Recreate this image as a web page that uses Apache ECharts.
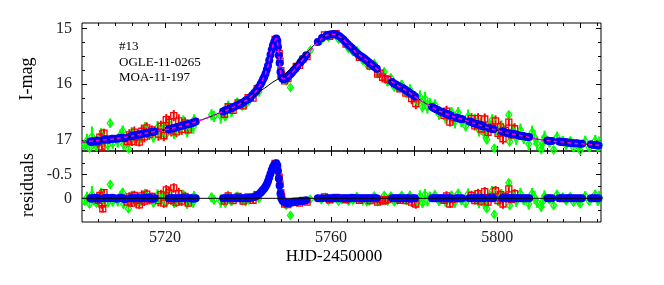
<!DOCTYPE html>
<html>
<head>
<meta charset="utf-8">
<script src="https://cdn.jsdelivr.net/npm/echarts@6/dist/echarts.min.js"></script>
<style>html,body{margin:0;padding:0;background:#fff}#c{width:664px;height:285px}</style>
</head>
<body>
<div id="c"></div>
<script>
// ---- data (HJD-2450000, I-mag, error, residual) ----
const annotation = ['#13', 'OGLE-11-0265', 'MOA-11-197'];
const xLabelTicks = [5720, 5760, 5800];
const yLabelTicksTop = [15, 16, 17];
const yLabelTicksRes = [-0.5, 0];

// single-lens model [t, mag]
const singleLens = [[5700,17.04],[5702,17.03],[5704,17.01],[5706,17.00],[5708,16.98],[5710,16.96],[5712,16.93],[5714,16.90],[5716,16.87],[5718,16.85],[5720,16.82],[5722,16.79],[5724,16.75],[5726,16.71],[5728,16.66],[5730,16.61],[5732,16.55],[5734,16.49],[5736,16.43],[5738,16.36],[5740,16.27],[5742,16.17],[5744,16.07],[5746,15.96],[5748,15.87],[5750,15.74],[5752,15.59],[5754,15.44],[5756,15.29],[5758,15.16],[5759,15.12],[5760,15.10],[5761,15.10],[5762,15.14],[5763,15.20],[5764,15.28],[5766,15.43],[5768,15.54],[5770,15.66],[5772,15.79],[5774,15.92],[5776,16.02],[5778,16.11],[5780,16.21],[5782,16.31],[5784,16.40],[5786,16.48],[5788,16.54],[5790,16.60],[5792,16.64],[5794,16.69],[5796,16.74],[5798,16.79],[5800,16.83],[5802,16.87],[5804,16.90],[5806,16.93],[5808,16.96],[5810,16.99],[5812,17.01],[5814,17.03],[5816,17.04],[5818,17.06],[5820,17.07],[5822,17.08],[5825,17.10]];

// planetary model [t, mag]
const planetModel = [[5700,17.04],[5704,17.01],[5708,16.98],[5712,16.93],[5716,16.87],[5720,16.82],[5724,16.75],[5728,16.66],[5732,16.55],[5736,16.43],[5740,16.27],[5742,16.12],[5743,16.00],[5743.6,15.91],[5744.2,15.81],[5744.8,15.67],[5745.4,15.47],[5746.0,15.30],[5746.4,15.22],[5746.8,15.18],[5747.0,15.21],[5747.2,15.32],[5747.4,15.47],[5747.6,15.62],[5747.8,15.77],[5748.0,15.86],[5748.4,15.90],[5749.0,15.90],[5749.8,15.85],[5750.6,15.79],[5751.4,15.72],[5752.6,15.61],[5754,15.48],[5756,15.31],[5758,15.16],[5759,15.12],[5760,15.10],[5761,15.10],[5762,15.14],[5763,15.20],[5764,15.28],[5766,15.43],[5768,15.54],[5770,15.66],[5772,15.79],[5774,15.92],[5776,16.02],[5778,16.11],[5780,16.21],[5782,16.31],[5784,16.40],[5786,16.48],[5788,16.54],[5790,16.60],[5792,16.64],[5794,16.69],[5796,16.74],[5798,16.79],[5800,16.83],[5802,16.87],[5804,16.90],[5806,16.93],[5808,16.96],[5810,16.99],[5812,17.01],[5814,17.03],[5816,17.04],[5818,17.06],[5820,17.07],[5822,17.08],[5825,17.10]];

const zeroLine = [[5700,0],[5825,0]];

// blue [t, mag, residual]
const blue = [[5702.0,17.03,0.00],[5702.4,17.04,0.01],[5702.8,17.02,-0.01],[5703.2,17.02,0.00],[5703.6,17.01,-0.01],[5704.0,17.02,0.01],
[5705.3,17.00,0.00],[5705.8,16.99,-0.01],[5706.3,17.00,0.00],[5706.8,16.99,0.00],[5707.3,16.98,-0.01],[5707.8,16.98,0.00],
[5708.4,16.98,0.01],[5708.9,16.97,0.00],[5709.4,16.96,-0.01],[5709.9,16.96,0.00],[5710.3,16.97,0.02],
[5711.6,16.94,0.00],[5712.1,16.93,0.00],[5712.6,16.92,0.00],[5713.1,16.91,-0.01],[5713.6,16.91,0.00],[5714.1,16.90,0.00],[5714.6,16.89,0.00],[5715.1,16.88,0.00],[5715.6,16.87,-0.01],[5716.1,16.87,0.00],[5716.6,16.86,0.00],[5717.1,16.86,0.01],[5717.5,16.85,0.00],
[5720.9,16.81,0.00],[5721.4,16.80,0.00],[5721.9,16.79,0.00],[5722.4,16.78,0.00],[5722.9,16.77,0.00],[5723.4,16.76,0.00],[5723.9,16.75,0.00],[5724.4,16.74,0.00],[5724.9,16.73,0.00],[5725.4,16.72,0.00],[5725.9,16.71,0.00],[5726.4,16.70,0.00],[5726.9,16.69,0.01],[5727.4,16.67,0.00],
[5734.0,16.49,0.00],[5734.5,16.47,0.00],[5735.0,16.46,0.00],[5735.5,16.44,0.00],[5736.0,16.43,0.00],[5736.5,16.41,0.00],[5737.0,16.39,0.00],[5737.5,16.38,0.00],[5738.0,16.36,0.00],[5738.5,16.34,0.00],[5739.0,16.32,0.00],[5739.5,16.29,0.00],[5740.0,16.27,0.00],[5740.5,16.24,-0.01],[5741.0,16.20,-0.02],[5741.5,16.16,-0.03],[5742.0,16.12,-0.05],[5742.5,16.06,-0.08],[5743.0,16.00,-0.12],
[5743.3,15.96,-0.15],[5743.6,15.91,-0.18],[5743.9,15.87,-0.21],[5744.2,15.81,-0.25],[5744.5,15.74,-0.30],[5744.8,15.67,-0.36],[5745.1,15.57,-0.44],[5745.4,15.47,-0.52],[5745.7,15.38,-0.60],[5746.0,15.30,-0.66],[5746.3,15.24,-0.71],[5746.6,15.20,-0.73],[5746.8,15.18,-0.74],[5747.0,15.22,-0.70],[5747.2,15.33,-0.58],[5747.4,15.48,-0.42],[5747.6,15.62,-0.27],[5747.8,15.78,-0.10],[5748.0,15.87,0.00],[5748.3,15.90,0.05],[5748.6,15.90,0.07],[5749.0,15.90,0.09],[5749.4,15.88,0.10],[5749.8,15.85,0.10],[5750.2,15.82,0.09],[5750.6,15.79,0.09],[5751.0,15.75,0.08],[5751.4,15.72,0.08],[5751.8,15.68,0.07],[5752.6,15.61,0.06],[5753.0,15.57,0.05],[5753.4,15.54,0.05],[5754.0,15.48,0.04],[5756.8,15.24,0.00],[5757.8,15.17,0.00],
[5759.0,15.12,0.00],[5759.5,15.11,0.00],[5760.0,15.10,0.00],[5760.5,15.10,0.00],[5761.0,15.10,0.00],[5761.5,15.12,0.00],[5762.0,15.14,0.00],[5762.5,15.17,0.00],[5763.0,15.20,0.00],[5763.5,15.24,0.00],[5764.0,15.28,0.00],[5764.5,15.32,0.00],[5765.0,15.35,-0.01],[5765.5,15.39,0.00],[5766.0,15.43,0.00],[5766.5,15.46,0.00],[5767.0,15.49,0.00],[5767.5,15.51,0.00],[5768.0,15.54,0.00],[5768.5,15.57,0.00],[5769.0,15.60,0.00],[5769.5,15.63,0.00],[5770.0,15.66,0.00],[5770.5,15.69,0.00],[5771.0,15.72,0.00],
[5774.7,15.96,0.00],[5775.2,15.99,0.00],[5775.7,16.01,0.00],[5776.2,16.03,0.00],[5776.7,16.05,0.00],[5777.2,16.07,0.00],[5777.7,16.09,0.00],[5778.2,16.12,0.00],[5778.7,16.14,0.00],[5779.2,16.17,0.01],[5779.7,16.19,0.00],[5780.2,16.22,0.00],
[5784.3,16.41,0.00],[5784.8,16.43,0.00],[5785.3,16.45,0.00],[5785.8,16.47,0.00],[5786.3,16.49,0.00],[5786.8,16.50,0.00],[5787.3,16.52,0.00],[5787.8,16.53,0.00],[5788.3,16.55,0.00],[5788.8,16.56,0.00],
[5790.1,16.60,0.00],[5790.6,16.61,0.00],[5791.1,16.62,0.00],[5791.6,16.63,0.00],
[5793.3,16.67,0.00],[5793.8,16.68,0.00],[5794.3,16.70,0.00],[5794.8,16.71,0.00],[5795.3,16.72,0.00],[5795.8,16.73,0.00],[5796.3,16.75,0.00],[5796.8,16.76,0.00],
[5798.1,16.79,0.00],[5798.6,16.80,0.00],[5799.1,16.81,0.00],
[5801.2,16.85,0.00],[5801.7,16.86,0.00],[5802.2,16.87,0.00],[5802.7,16.88,0.00],[5803.2,16.89,0.00],[5803.7,16.90,0.00],[5804.2,16.90,0.00],[5804.7,16.91,0.00],[5805.2,16.92,0.00],[5805.7,16.93,0.00],[5806.2,16.93,0.00],[5806.7,16.94,0.00],[5807.2,16.95,0.00],[5807.7,16.95,0.00],
[5812.1,17.01,0.00],[5812.6,17.02,0.00],[5813.2,17.02,0.00],
[5814.9,17.03,0.00],[5815.4,17.04,0.00],[5815.9,17.04,0.00],[5816.5,17.04,0.00],[5817.0,17.05,0.00],[5817.5,17.05,0.00],[5818.0,17.06,0.00],[5818.6,17.06,0.00],[5819.2,17.06,0.00],[5819.8,17.07,0.00],[5820.4,17.07,0.00],
[5822.6,17.08,0.00],[5823.2,17.09,0.00],[5823.8,17.09,0.00],[5824.4,17.10,0.00]];

// red [t, mag, err, residual]
const red = [[5703.9,17.05,0.10,0.04],[5704.3,16.95,0.12,-0.06],[5704.8,17.125,0.10,0.12],[5705.0,17.225,0.08,0.22],[5705.3,16.88,0.08,-0.12],
[5710.9,17.03,0.10,0.08],[5711.4,16.91,0.10,-0.03],[5712.0,17.03,0.08,0.10],[5712.6,16.86,0.10,-0.06],[5713.2,16.95,0.10,0.04],[5713.8,17.04,0.08,0.14],[5714.4,16.845,0.12,-0.05],[5715.0,16.945,0.10,0.06],[5715.6,16.785,0.10,-0.09],[5716.2,16.90,0.10,0.03],[5716.8,16.82,0.08,-0.04],
[5718.4,16.895,0.12,0.05],[5719.0,16.755,0.10,-0.08],[5719.7,16.925,0.10,0.10],[5720.3,16.635,0.10,-0.18],[5720.9,16.685,0.12,-0.12],[5721.5,16.84,0.10,0.04],[5722.1,16.565,0.10,-0.22],[5722.7,16.855,0.10,0.08],[5723.3,16.66,0.12,-0.10],[5724.0,16.81,0.10,0.06],[5724.8,16.695,0.10,-0.04],[5725.6,16.82,0.08,0.10],
[5734.3,16.54,0.06,0.06],[5735.2,16.405,0.06,-0.05],[5736.4,16.47,0.06,0.05],[5737.6,16.335,0.06,-0.04],[5738.8,16.39,0.06,0.06],[5740.0,16.24,0.06,-0.03],[5741.2,16.25,0.06,0.04],[5742.2,16.08,0.06,-0.08],
[5746.5,15.195,0.05,-0.74],[5747.1,15.25,0.05,-0.66],[5747.5,15.445,0.05,-0.45],[5747.7,15.585,0.05,-0.30],[5747.9,15.755,0.05,-0.12],[5748.1,15.835,0.05,-0.03],[5748.8,15.94,0.05,0.12],[5749.6,15.90,0.05,0.13],
[5751.6,15.68,0.05,0.06],[5752.4,15.66,0.05,0.10],[5753.2,15.55,0.05,0.05],[5754.2,15.505,0.05,0.08],
[5758.4,15.115,0.04,-0.03],[5759.6,15.14,0.04,0.03],[5761.2,15.09,0.04,-0.02],[5763.6,15.28,0.05,0.03],[5766.8,15.515,0.05,0.04],[5769.4,15.675,0.06,0.05],[5771.2,15.82,0.06,0.08],[5771.8,15.80,0.06,0.02],[5772.4,15.875,0.06,0.06],[5773.0,15.905,0.06,0.05],[5773.6,15.915,0.08,0.02],
[5776.6,16.085,0.06,0.04],[5778.0,16.16,0.06,0.05],[5779.4,16.26,0.10,0.08],[5780.4,16.35,0.10,0.12],
[5787.2,16.56,0.08,0.04],[5787.8,16.485,0.10,-0.05],[5788.6,16.68,0.08,0.12],[5789.3,16.60,0.10,0.02],
[5793.8,16.62,0.10,-0.06],[5794.6,16.75,0.08,0.05],[5795.4,16.62,0.10,-0.10],[5796.2,16.805,0.10,0.06],[5797.0,16.625,0.10,-0.14],[5797.8,16.865,0.10,0.08],[5798.6,16.77,0.10,-0.03],[5799.6,16.66,0.10,-0.16],[5800.2,16.885,0.10,0.05],[5800.8,16.765,0.10,-0.08],[5801.4,16.98,0.10,0.12],[5802.0,16.83,0.10,-0.04],
[5802.8,16.68,0.08,-0.20],[5803.4,16.91,0.10,0.02],[5804.2,16.80,0.10,-0.10]];

// green [t, mag, err, residual]
const green = [[5700.6,17.10,0.08,0.06],[5701.2,17.01,0.12,-0.02],[5701.8,17.15,0.08,0.12],[5702.4,16.94,0.18,-0.08],[5702.9,17.06,0.10,0.04],[5703.5,17.12,0.08,0.10],[5704.6,16.91,0.12,-0.10],[5705.2,17.03,0.10,0.03],[5706.2,17.09,0.10,0.09],[5706.8,16.70,0.08,-0.29],[5707.4,17.06,0.10,0.07],[5708.6,17.02,0.12,0.05],[5709.3,16.91,0.10,-0.06],[5709.8,16.84,0.10,-0.12],[5710.0,17.08,0.10,0.12],[5711.2,17.16,0.08,0.22],[5712.0,16.89,0.12,-0.04],[5713.0,17.01,0.10,0.10],[5714.2,16.95,0.10,0.05],[5715.2,16.80,0.12,-0.08],[5716.0,16.89,0.08,0.02],[5717.2,16.95,0.10,0.09],
[5718.2,16.78,0.12,-0.07],[5718.9,16.90,0.10,0.06],[5719.6,16.81,0.14,-0.02],[5720.3,16.90,0.10,0.09],[5721.0,16.72,0.10,-0.08],[5722.2,16.885,0.10,0.10],[5723.5,16.81,0.10,0.05],[5724.4,16.68,0.12,-0.06],[5725.3,16.85,0.10,0.12],[5726.2,16.75,0.10,0.04],[5726.8,16.77,0.12,0.08],[5727.0,16.64,0.10,-0.05],
[5731.2,16.55,0.10,-0.02],[5731.8,16.58,0.10,0.03],[5733.4,16.57,0.14,0.06],[5734.5,16.58,0.08,0.10],[5735.2,16.395,0.10,-0.06],[5736.0,16.49,0.10,0.06],[5737.4,16.34,0.10,-0.04],[5738.6,16.39,0.08,0.05],[5739.4,16.37,0.08,0.07],[5740.2,16.30,0.08,0.04],[5741.5,16.13,0.08,-0.06],[5742.6,16.14,0.08,0.00],
[5744.8,15.65,0.06,-0.38],[5746.4,15.22,0.06,-0.72],[5748.2,15.91,0.06,0.05],[5749.2,15.94,0.05,0.15],[5750.2,16.06,0.05,0.36],[5752.5,15.62,0.06,0.06],[5755.0,15.39,0.06,0.02],
[5757.6,15.21,0.05,0.03],[5758.6,15.12,0.06,-0.02],[5759.4,15.16,0.05,0.05],[5760.4,15.12,0.05,0.02],[5761.8,15.19,0.05,0.06],[5762.6,15.20,0.05,0.03],[5764.2,15.36,0.06,0.06],[5765.2,15.41,0.06,0.04],[5766.2,15.40,0.06,-0.04],[5767.6,15.57,0.06,0.05],[5768.6,15.64,0.06,0.07],[5769.2,15.67,0.06,0.06],[5770.4,15.63,0.06,-0.05],[5771.2,15.81,0.06,0.07],[5772.8,15.78,0.08,-0.06],[5773.6,15.955,0.08,0.06],[5774.4,15.89,0.08,-0.05],[5775.2,16.05,0.08,0.07],[5776.0,16.06,0.08,0.04],[5777.0,16.005,0.08,-0.06],[5778.2,16.17,0.08,0.05],[5779.0,16.10,0.10,-0.06],
[5780.8,16.32,0.10,0.07],[5781.4,16.23,0.12,-0.05],[5782.0,16.41,0.10,0.10],[5782.6,16.26,0.12,-0.08],[5783.2,16.41,0.12,0.05],[5783.8,16.35,0.10,-0.04],[5785.0,16.37,0.10,-0.07],[5786.0,16.54,0.10,0.06],[5787.6,16.61,0.10,0.08],[5789.0,16.51,0.10,-0.06],[5789.8,16.675,0.12,0.08],[5790.6,16.51,0.10,-0.10],[5791.4,16.67,0.10,0.04],[5792.4,16.75,0.10,0.10],[5793.0,16.575,0.12,-0.09],
[5794.6,16.65,0.12,-0.05],[5795.6,16.82,0.12,0.09],[5796.0,16.71,0.10,-0.04],[5796.8,16.87,0.12,0.10],[5797.5,17.00,0.07,0.22],[5798.2,16.74,0.10,-0.05],[5798.8,16.64,0.10,-0.16],[5799.3,17.15,0.06,0.34],[5800.4,16.89,0.10,0.05],[5801.0,16.77,0.12,-0.08],[5802.8,16.55,0.06,-0.33],[5803.0,17.035,0.06,0.15],[5803.8,16.835,0.12,-0.06],[5804.6,16.97,0.12,0.06],[5805.6,16.825,0.12,-0.10],[5806.4,16.975,0.10,0.04],[5807.6,17.075,0.12,0.12],
[5808.4,16.865,0.12,-0.10],[5809.0,16.955,0.14,-0.02],[5809.6,17.065,0.12,0.08],[5810.6,17.175,0.10,0.18],[5811.0,17.06,0.14,0.06],[5811.4,16.955,0.12,-0.05],[5812.6,17.05,0.08,0.03],[5813.6,17.18,0.06,0.15],[5814.4,16.95,0.10,-0.08],[5815.8,17.01,0.08,-0.03],[5816.6,17.095,0.08,0.05],[5817.6,17.015,0.06,-0.04],[5818.4,17.14,0.08,0.08],[5819.6,17.125,0.06,0.06],[5820.0,17.19,0.06,0.12],[5821.2,17.025,0.10,-0.05],[5822.2,17.14,0.08,0.06],[5823.6,17.01,0.10,-0.08],[5824.2,17.135,0.12,0.04],[5824.6,17.08,0.14,-0.02]];

// ---- chart ----
const FONT = '"Liberation Serif", "DejaVu Serif", serif';
const chart = echarts.init(document.getElementById('c'), null, {renderer: 'canvas'});

const X_MIN = 5700, X_MAX = 5825;
const majorX = [5720, 5740, 5760, 5780, 5800, 5820];
const minorX = [];
for (let v = 5704; v < X_MAX; v += 4) if (majorX.indexOf(v) < 0) minorX.push(v);
const minorYTop = [15.25, 15.5, 15.75, 16.25, 16.5, 16.75];
const minorYRes = [-0.75, -0.25, 0.25];

function xAx(grid, pos, ticks, len, labels) {
  return {
    type: 'value', gridIndex: grid, position: pos, min: X_MIN, max: X_MAX,
    axisLine: {show: false, onZero: false},
    splitLine: {show: false},
    axisTick: {show: true, inside: true, length: len, customValues: ticks, lineStyle: {color: '#000', width: 1}},
    axisLabel: labels ? {show: true, customValues: labels, color: '#222', fontFamily: FONT, fontSize: 16, margin: 8,
      formatter: v => String(v)} : {show: false}
  };
}
function yAx(grid, pos, min, max, ticks, len, labels) {
  return {
    type: 'value', gridIndex: grid, position: pos, min: min, max: max, inverse: true,
    axisLine: {show: false, onZero: false},
    splitLine: {show: false},
    axisTick: {show: true, inside: true, length: len, customValues: ticks, lineStyle: {color: '#000', width: 1}},
    axisLabel: labels ? {show: true, customValues: labels, color: '#222', fontFamily: FONT, fontSize: 16, margin: 10,
      formatter: v => (v === 0 ? '0' : String(v))} : {show: false}
  };
}

function errBars(data, yIdx, color, xi, yi, lw) {
  return {
    type: 'custom', xAxisIndex: xi, yAxisIndex: yi, clip: true, silent: true,
    data: data.map(d => [d[0], d[yIdx], d[2]]),
    renderItem: function (params, api) {
      const x = api.value(0), y = api.value(1), e = api.value(2);
      const p1 = api.coord([x, y - e]), p2 = api.coord([x, y + e]);
      return {type: 'line', shape: {x1: p1[0], y1: p1[1], x2: p2[0], y2: p2[1]},
        style: {stroke: color, lineWidth: lw}};
    }
  };
}
function marks(data, yIdx, symbol, size, color, filled, xi, yi, bw) {
  return {
    type: 'scatter', xAxisIndex: xi, yAxisIndex: yi, clip: true, silent: true,
    symbol: symbol, symbolSize: size,
    data: data.map(d => [d[0], d[yIdx]]),
    itemStyle: filled ? {color: color, opacity: 1} : {color: 'rgba(0,0,0,0)', borderColor: color, borderWidth: bw || 1, opacity: 1}
  };
}

const option = {
  animation: false,
  backgroundColor: '#fff',
  grid: [
    {left: 82, top: 23, width: 519, height: 128, show: true, borderColor: '#000', borderWidth: 1, backgroundColor: 'transparent'},
    {left: 82, top: 151, width: 519, height: 71, show: true, borderColor: '#000', borderWidth: 1, backgroundColor: 'transparent'}
  ],
  xAxis: [
    xAx(0, 'bottom', majorX, 5, null),
    xAx(0, 'bottom', minorX, 3, null),
    xAx(0, 'top', majorX, 5, null),
    xAx(0, 'top', minorX, 3, null),
    xAx(1, 'bottom', majorX, 5, xLabelTicks),
    xAx(1, 'bottom', minorX, 3, null),
    xAx(1, 'top', majorX, 5, null),
    xAx(1, 'top', minorX, 3, null)
  ],
  yAxis: [
    yAx(0, 'left', 14.9, 17.2, yLabelTicksTop, 5, yLabelTicksTop),
    yAx(0, 'left', 14.9, 17.2, minorYTop, 3, null),
    yAx(0, 'right', 14.9, 17.2, yLabelTicksTop, 5, null),
    yAx(0, 'right', 14.9, 17.2, minorYTop, 3, null),
    yAx(1, 'left', -1, 0.5, yLabelTicksRes, 5, yLabelTicksRes),
    yAx(1, 'left', -1, 0.5, minorYRes, 3, null),
    yAx(1, 'right', -1, 0.5, yLabelTicksRes, 5, null),
    yAx(1, 'right', -1, 0.5, minorYRes, 3, null)
  ],
  series: [
    // top panel
    errBars(green, 1, '#00ff00', 0, 0, 2.2),
    marks(green, 1, 'diamond', [6, 8], '#00ff00', false, 0, 0, 1.3),
    errBars(red, 1, '#ff0000', 0, 0, 2),
    marks(red, 1, 'rect', 6, '#ff0000', false, 0, 0, 1.3),
    marks(blue, 1, 'circle', 8, '#0000ff', true, 0, 0),
    {type: 'line', xAxisIndex: 0, yAxisIndex: 0, data: singleLens, showSymbol: false, smooth: 0.3, clip: true, silent: true,
      lineStyle: {color: '#000', width: 1}},
    {type: 'line', xAxisIndex: 0, yAxisIndex: 0, data: planetModel, showSymbol: false, smooth: 0.2, clip: true, silent: true,
      lineStyle: {color: '#ff00ff', width: 1.5, type: [4, 3]}},
    // residual panel
    {type: 'line', xAxisIndex: 4, yAxisIndex: 4, data: zeroLine, showSymbol: false, silent: true,
      lineStyle: {color: '#000', width: 1}},
    errBars(green, 3, '#00ff00', 4, 4, 2.2),
    marks(green, 3, 'diamond', [6, 8], '#00ff00', false, 4, 4, 1.3),
    errBars(red, 3, '#ff0000', 4, 4, 2),
    marks(red, 3, 'rect', 6, '#ff0000', false, 4, 4, 1.3),
    marks(blue, 2, 'circle', 8, '#0000ff', true, 4, 4)
  ],
  graphic: [
    {type: 'text', x: 119, y: 47, style: {text: annotation[0], font: '13px ' + FONT, fill: '#000', textVerticalAlign: 'middle'}},
    {type: 'text', x: 119, y: 62.5, style: {text: annotation[1], font: '13px ' + FONT, fill: '#000', textVerticalAlign: 'middle'}},
    {type: 'text', x: 119, y: 78, style: {text: annotation[2], font: '13px ' + FONT, fill: '#000', textVerticalAlign: 'middle'}},
    {type: 'text', x: 27, y: 79, rotation: Math.PI / 2, style: {text: 'I-mag', font: '18px ' + FONT, fill: '#000', textAlign: 'center', textVerticalAlign: 'middle'}},
    {type: 'text', x: 28, y: 185, rotation: Math.PI / 2, style: {text: 'residuals', font: '18px ' + FONT, fill: '#000', textAlign: 'center', textVerticalAlign: 'middle'}},
    {type: 'text', x: 334, y: 257, style: {text: 'HJD-2450000', font: '17px ' + FONT, fill: '#000', textAlign: 'center', textVerticalAlign: 'middle'}}
  ]
};
chart.setOption(option);
</script>
</body>
</html>
